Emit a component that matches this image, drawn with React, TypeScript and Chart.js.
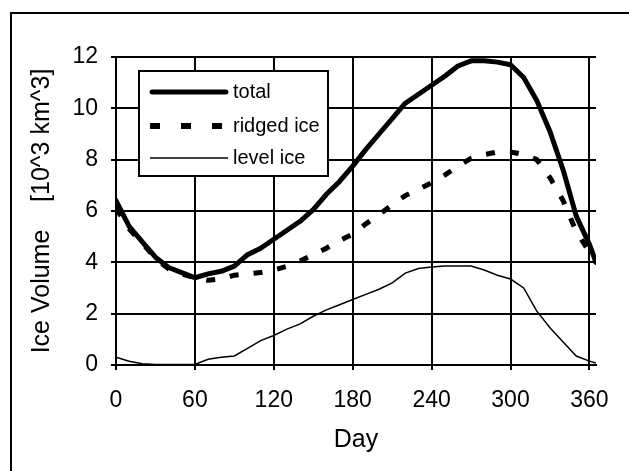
import React, { useEffect, useRef } from "react";
import { Chart, registerables } from "chart.js";

Chart.register(...registerables);

const DAYS = [0, 10, 20, 30, 40, 50, 60, 70, 80, 90, 100, 110, 120, 130, 140, 150, 160, 170, 180, 190, 200, 210, 220, 230, 240, 250, 260, 270, 280, 290, 300, 310, 320, 330, 340, 350, 360, 365];
const TOTAL = [6.4, 5.4, 4.8, 4.2, 3.8, 3.6, 3.4, 3.55, 3.65, 3.85, 4.3, 4.55, 4.9, 5.25, 5.6, 6.05, 6.65, 7.15, 7.75, 8.4, 9.0, 9.6, 10.2, 10.55, 10.9, 11.25, 11.65, 11.85, 11.85, 11.8, 11.7, 11.2, 10.3, 9.1, 7.6, 5.8, 4.7, 4.0];
const RIDGED = [6.1, 5.3, 4.75, 4.15, 3.75, 3.55, 3.4, 3.3, 3.35, 3.5, 3.55, 3.6, 3.7, 3.85, 4.05, 4.3, 4.55, 4.85, 5.1, 5.5, 5.85, 6.25, 6.6, 6.85, 7.1, 7.4, 7.75, 8.05, 8.2, 8.3, 8.3, 8.2, 8.0, 7.3, 6.4, 5.2, 4.4, 4.0];
const LEVEL = [0.3, 0.15, 0.05, 0.02, 0.02, 0.02, 0.02, 0.22, 0.3, 0.35, 0.65, 0.95, 1.15, 1.4, 1.6, 1.9, 2.15, 2.35, 2.55, 2.75, 2.95, 3.2, 3.58, 3.76, 3.82, 3.86, 3.86, 3.86, 3.7, 3.5, 3.35, 3.0, 2.1, 1.45, 0.9, 0.35, 0.15, 0.08];
const X_TICKS = [0, 60, 120, 180, 240, 300, 360];
const Y_TICKS = [0, 2, 4, 6, 8, 10, 12];
const SERIES_NAMES = ["total", "ridged ice", "level ice"];
const X_TITLE = "Day";
const Y_TITLE = "Ice Volume    [10^3 km^3]";

const FONT = "'Liberation Sans', Arial, Helvetica, sans-serif";

const framePlugin = {
  id: "frameAndLegend",
  beforeDraw(chart: any) {
    const ctx = chart.ctx;
    ctx.save();
    ctx.fillStyle = "#000";
    ctx.fillRect(10, 12, 2, chart.height);
    ctx.fillRect(10, 12, chart.width, 2);
    ctx.restore();
  },
  afterDatasetsDraw(chart: any) {
    const ctx = chart.ctx;
    const area = chart.chartArea;
    const bx = area.left + 23;
    const by = area.top + 14;
    const bw = 189;
    const bh = 105;
    ctx.save();
    ctx.fillStyle = "#fff";
    ctx.fillRect(bx, by, bw, bh);
    ctx.strokeStyle = "#000";
    ctx.lineWidth = 2;
    ctx.strokeRect(bx, by, bw, bh);
    const rows = [21, 55, 87];
    const x1 = bx + 11;
    const x2 = bx + 89;
    ctx.beginPath();
    ctx.lineWidth = 5;
    ctx.lineCap = "round";
    ctx.moveTo(x1 + 2, by + rows[0]);
    ctx.lineTo(x2 - 2, by + rows[0]);
    ctx.stroke();
    ctx.beginPath();
    ctx.lineCap = "butt";
    ctx.lineWidth = 6;
    ctx.setLineDash([10, 21]);
    ctx.moveTo(x1, by + rows[1]);
    ctx.lineTo(x2, by + rows[1]);
    ctx.stroke();
    ctx.setLineDash([]);
    ctx.beginPath();
    ctx.lineWidth = 1.5;
    ctx.moveTo(x1, by + rows[2]);
    ctx.lineTo(x2, by + rows[2]);
    ctx.stroke();
    ctx.fillStyle = "#000";
    ctx.font = `20px ${FONT}`;
    ctx.textBaseline = "middle";
    ctx.textAlign = "left";
    SERIES_NAMES.forEach((n, i) => ctx.fillText(n, bx + 94, by + rows[i]));
    ctx.restore();
  },
};

export default function App() {
  const ref = useRef<HTMLCanvasElement | null>(null);
  useEffect(() => {
    if (!ref.current) return;
    const pts = (arr: number[]) => DAYS.map((d, i) => ({ x: d, y: arr[i] }));
    const chart = new Chart(ref.current, {
      type: "line",
      data: {
        datasets: [
          {
            label: SERIES_NAMES[0],
            data: pts(TOTAL),
            borderColor: "#000",
            borderWidth: 5,
            pointRadius: 0,
            tension: 0,
            borderJoinStyle: "round",
            borderCapStyle: "round",
          },
          {
            label: SERIES_NAMES[1],
            data: pts(RIDGED),
            borderColor: "#000",
            borderWidth: 5,
            borderDash: [9, 15],
            pointRadius: 0,
            tension: 0,
            borderCapStyle: "butt",
          },
          {
            label: SERIES_NAMES[2],
            data: pts(LEVEL),
            borderColor: "#000",
            borderWidth: 1.5,
            pointRadius: 0,
            tension: 0,
          },
        ],
      },
      options: {
        animation: false,
        responsive: false,
        layout: { padding: { left: 0, top: 57, right: 33, bottom: 0 } },
        plugins: { legend: { display: false }, tooltip: { enabled: false } },
        scales: {
          x: {
            type: "linear",
            min: 0,
            max: 365,
            afterBuildTicks: (s: any) => {
              s.ticks = X_TICKS.map((v) => ({ value: v }));
            },
            afterFit: (s: any) => {
              s.height = 106;
            },
            grid: { color: "#000", lineWidth: 2, tickLength: 5 },
            border: { color: "#000", width: 2 },
            ticks: { color: "#000", font: { family: FONT, size: 23 }, padding: 17, maxRotation: 0, autoSkip: false },
            title: { display: true, text: X_TITLE, color: "#000", font: { family: FONT, size: 25 }, padding: { top: 0, bottom: 16 } },
          },
          y: {
            type: "linear",
            min: 0,
            max: 12,
            afterBuildTicks: (s: any) => {
              s.ticks = Y_TICKS.map((v) => ({ value: v }));
            },
            afterFit: (s: any) => {
              s.width = 116;
            },
            grid: { color: "#000", lineWidth: 2, tickLength: 5 },
            border: { color: "#000", width: 2 },
            ticks: { color: "#000", font: { family: FONT, size: 23 }, padding: 13 },
            title: { display: true, text: Y_TITLE, color: "#000", font: { family: FONT, size: 25 }, padding: { top: 27, bottom: 0 } },
          },
        },
      },
      plugins: [framePlugin],
    } as any);
    return () => chart.destroy();
  }, []);
  return (
    <div style={{ position: "absolute", left: 0, top: 0, width: 629, height: 471 }}>
      <canvas ref={ref} width={629} height={471} />
    </div>
  );
}
